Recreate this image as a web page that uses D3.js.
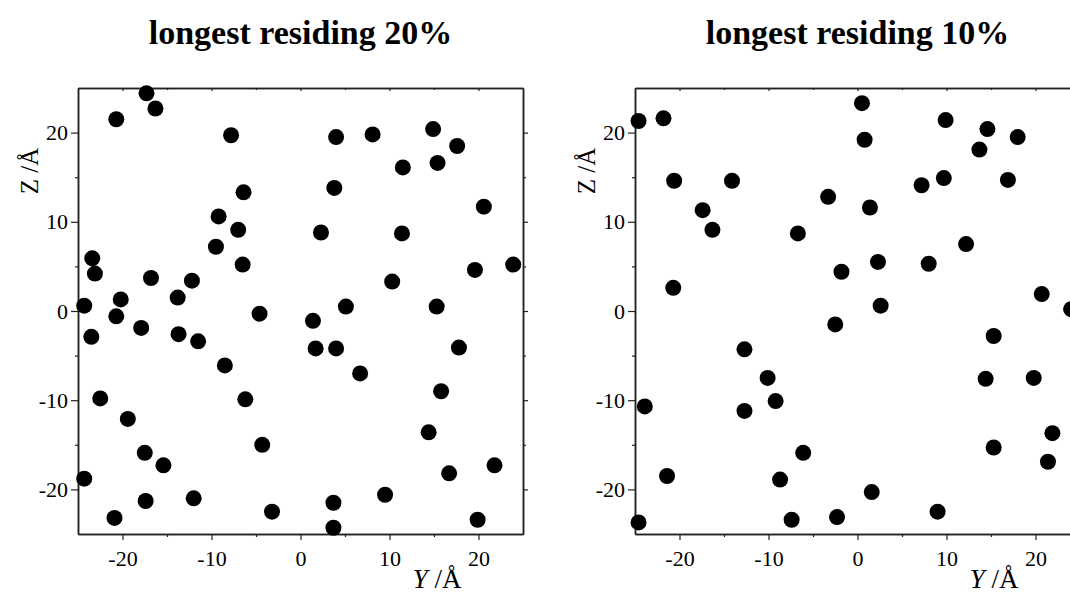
<!DOCTYPE html>
<html>
<head>
<meta charset="utf-8">
<script src="https://cdn.jsdelivr.net/npm/d3@7"></script>
<style>
  body { margin: 0; background: #fff; }
  svg { display: block; }
</style>
</head>
<body>
<div class="chart"></div>
<script>
// positions (Y, Z in Å)
const titles = ['longest residing 20%', 'longest residing 10%'];
const tickValues = [-20, -10, 0, 10, 20];
const tickLabels = ['-20', '-10', '0', '10', '20'];
const minorTicks = [-15, -5, 5, 15];

const y20 = [-17.3, -16.3, -20.7, -7.8, -6.4, -9.2, -7.0, -9.5, -6.5, -23.4, -23.1, -16.8, -12.2, -13.8,
  -20.2, -24.3, -4.6, -20.7, -17.9, -23.5, -13.7, -11.5, -8.5, -22.5, -6.2, -19.4, -17.5, -15.4, -4.3,
  -24.3, -17.4, -12.0, -20.9, -3.2, 4.0, 8.1, 14.9, 17.6, 11.5, 15.4, 3.8, 20.6, 2.3, 11.4, 19.6, 23.9,
  10.3, 5.1, 15.3, 1.4, 1.7, 4.0, 17.8, 6.7, 15.8, 14.4, 16.7, 21.8, 9.5, 3.7, 3.7, 19.9];
const z20 = [24.4, 22.7, 21.5, 19.7, 13.3, 10.6, 9.1, 7.2, 5.2, 5.9, 4.2, 3.7, 3.4, 1.5,
  1.3, 0.6, -0.3, -0.6, -1.9, -2.9, -2.6, -3.4, -6.1, -9.8, -9.9, -12.1, -15.9, -17.3, -15.0,
  -18.8, -21.3, -21.0, -23.2, -22.5, 19.5, 19.8, 20.4, 18.5, 16.1, 16.6, 13.8, 11.7, 8.8, 8.7, 4.6, 5.2,
  3.3, 0.5, 0.5, -1.1, -4.2, -4.2, -4.1, -7.0, -9.0, -13.6, -18.2, -17.3, -20.6, -21.5, -24.3, -23.4];

const y10 = [-24.6, -21.8, -20.6, -14.1, -17.4, -16.3, -6.7, -20.7, 0.5, 0.8, 9.9, 14.6, 18.0, 13.7,
  7.2, 9.7, 16.9, -3.3, 1.4, 12.2, -1.8, 2.3, 8.0, 20.7, 24.0, 2.6, -2.5, 15.3, 14.4, 19.8, 21.9,
  21.4, 15.3, -6.1, 1.6, -2.3, 9.0, -12.7, -10.1, -9.2, -12.7, -23.9, -21.4, -24.6, -8.7, -7.4];
const z10 = [21.3, 21.6, 14.6, 14.6, 11.3, 9.1, 8.7, 2.6, 23.3, 19.2, 21.4, 20.4, 19.5, 18.1,
  14.1, 14.9, 14.7, 12.8, 11.6, 7.5, 4.4, 5.5, 5.3, 1.9, 0.2, 0.6, -1.5, -2.8, -7.6, -7.5, -13.7,
  -16.9, -15.3, -15.9, -20.3, -23.1, -22.5, -4.3, -7.5, -10.1, -11.2, -10.7, -18.5, -23.7, -18.9, -23.4];

const W = 1070, H = 593;
const panels = [
  {left: 78, ys: y20, zs: z20, title: titles[0]},
  {left: 635, ys: y10, zs: z10, title: titles[1]}
];
const plotTop = 88, plotBottom = 534, plotW = 445;
const serif = '"Liberation Serif", "Times New Roman", serif';

const svg = d3.select('.chart')
  .append('svg')
    .attr('width', W)
    .attr('height', H);

panels.forEach(p => {
  const x = d3.scaleLinear().domain([-25, 25]).range([p.left, p.left + plotW]);
  const y = d3.scaleLinear().domain([-25, 25]).range([plotBottom, plotTop]);
  const g = svg.append('g');

  const fmt = d => tickLabels[tickValues.indexOf(d)];

  // bottom + left axes with labels, ticks outward
  g.append('g')
    .attr('transform', `translate(0,${plotBottom})`)
    .call(d3.axisBottom(x).tickValues(tickValues).tickFormat(fmt).tickSize(6).tickSizeOuter(0).tickPadding(10));
  g.append('g')
    .attr('transform', `translate(${p.left},0)`)
    .call(d3.axisLeft(y).tickValues(tickValues).tickFormat(fmt).tickSize(7).tickSizeOuter(0).tickPadding(3));
  // top: ticks inward, right: ticks outward, no labels
  g.append('g')
    .attr('transform', `translate(0,${plotTop})`)
    .call(d3.axisBottom(x).tickValues(tickValues).tickFormat('').tickSize(3).tickSizeOuter(0));
  g.append('g')
    .attr('transform', `translate(${p.left + plotW},0)`)
    .call(d3.axisRight(y).tickValues(tickValues).tickFormat('').tickSize(5).tickSizeOuter(0));

  // minor ticks
  g.append('g').attr('transform', `translate(0,${plotBottom})`)
    .call(d3.axisBottom(x).tickValues(minorTicks).tickFormat('').tickSize(3).tickSizeOuter(0));
  g.append('g').attr('transform', `translate(${p.left},0)`)
    .call(d3.axisLeft(y).tickValues(minorTicks).tickFormat('').tickSize(3).tickSizeOuter(0));
  g.append('g').attr('transform', `translate(0,${plotTop})`)
    .call(d3.axisBottom(x).tickValues(minorTicks).tickFormat('').tickSize(2).tickSizeOuter(0));
  g.append('g').attr('transform', `translate(${p.left + plotW},0)`)
    .call(d3.axisRight(y).tickValues(minorTicks).tickFormat('').tickSize(3).tickSizeOuter(0));

  g.selectAll('.domain').attr('stroke', '#222').attr('stroke-width', 1.5);
  g.selectAll('.tick line').attr('stroke', '#222').attr('stroke-width', 1.2);
  g.selectAll('.tick text')
    .attr('font-family', serif)
    .attr('font-size', '22px')
    .attr('fill', '#000');

  g.append('g')
    .selectAll('circle')
    .data(d3.zip(p.ys, p.zs))
    .join('circle')
      .attr('cx', d => x(d[0]))
      .attr('cy', d => y(d[1]))
      .attr('r', 8)
      .attr('fill', '#000');

  g.append('text')
    .attr('x', x(0))
    .attr('y', 44)
    .attr('text-anchor', 'middle')
    .attr('font-family', serif)
    .attr('font-size', '34px')
    .attr('font-weight', 'bold')
    .text(p.title);

  // axis titles
  const xt = g.append('text')
    .attr('x', x(12.6))
    .attr('y', 588)
    .attr('font-family', serif)
    .attr('font-size', '27px');
  xt.append('tspan').attr('font-style', 'italic').text('Y');
  xt.append('tspan').text(' /Å');

  g.append('text')
    .attr('transform', `translate(${p.left - 40},${y(13.1)}) rotate(-90)`)
    .attr('font-family', serif)
    .attr('font-size', '25px')
    .text('Z /Å');
});
</script>
</body>
</html>
